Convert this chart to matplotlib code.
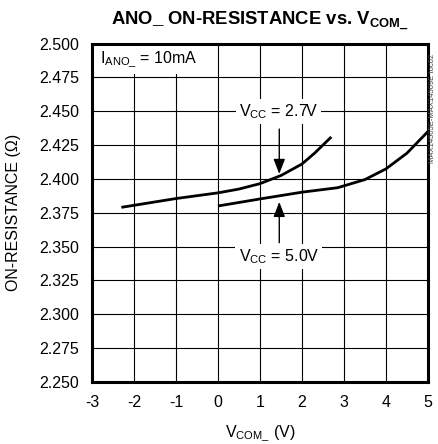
import matplotlib
matplotlib.use("Agg")
import matplotlib.pyplot as plt

plt.rcParams['font.family'] = ['Liberation Sans', 'DejaVu Sans']
plt.rcParams['mathtext.fontset'] = 'custom'
plt.rcParams['mathtext.rm'] = 'Liberation Sans'
plt.rcParams['mathtext.it'] = 'Liberation Sans'
plt.rcParams['mathtext.bf'] = 'Liberation Sans:bold'

# Data
vcom_27 = [-2.3, -1.0, 0.0, 0.5, 1.0, 1.5, 2.0, 2.3, 2.7]
ron_27 = [2.379, 2.3855, 2.3897, 2.3925, 2.3965, 2.4025, 2.411, 2.419, 2.431]
vcom_50 = [0.0, 1.0, 2.0, 2.85, 3.5, 4.0, 4.5, 5.0]
ron_50 = [2.380, 2.3852, 2.3902, 2.3935, 2.3995, 2.4074, 2.419, 2.435]
xticks = [-3, -2, -1, 0, 1, 2, 3, 4, 5]
yticks = [2.250, 2.275, 2.300, 2.325, 2.350, 2.375, 2.400, 2.425, 2.450, 2.475, 2.500]

fig = plt.figure(figsize=(4.38, 4.44), dpi=100)
ax = fig.add_axes([0.210, 0.1396, 0.767, 0.7624])

ax.plot(vcom_27, ron_27, color='black', lw=2.0, zorder=3, solid_capstyle='butt')
ax.plot(vcom_50, ron_50, color='black', lw=2.0, zorder=3, solid_capstyle='butt')

ax.set_xlim(-3, 5)
ax.set_ylim(2.25, 2.5)
ax.set_xticks(xticks)
ax.set_yticks(yticks)
ax.set_xticklabels([f"{t}" for t in xticks])
ax.set_yticklabels([f"{t:.3f}" for t in yticks])
ax.tick_params(length=0, labelsize=11.5)
ax.tick_params(axis='y', pad=9)
ax.tick_params(axis='x', pad=9)
ax.grid(True, color='black', lw=0.8, zorder=1)
ax.set_axisbelow(True)
for s in ax.spines.values():
    s.set_linewidth(2.2)
    s.set_zorder(5)

ax.set_xlabel(r"V$_{\mathrm{COM\_}}$ (V)", fontsize=11.5, labelpad=10)
ax.set_ylabel("ON-RESISTANCE (Ω)", fontsize=11.5, labelpad=13)
ax.set_title(r"ANO_ ON-RESISTANCE vs. V$_{\mathbf{COM\_}}$", fontsize=13.3,
             fontweight='bold', pad=13)

box = dict(boxstyle='square,pad=0.2', fc='white', ec='none')
ax.text(-2.8, 2.4885, r"I$_{\mathrm{ANO\_}}$ = 10mA", fontsize=11.5, ha='left',
        va='center', bbox=dict(boxstyle='square,pad=0.3', fc='white', ec='none'), zorder=4)
ax.text(1.45, 2.4495, r"V$_{\mathrm{CC}}$ = 2.7V", fontsize=11.5, ha='center',
        va='center', bbox=box, zorder=4)
ax.text(1.45, 2.3425, r"V$_{\mathrm{CC}}$ = 5.0V", fontsize=11.5, ha='center',
        va='center', bbox=box, zorder=4)

arrow = dict(arrowstyle='-|>,head_length=0.9,head_width=0.35', color='black',
             lw=1.0, shrinkA=0, shrinkB=0)
ax.annotate("", xy=(1.46, 2.4037), xytext=(1.46, 2.4368), arrowprops=arrow, zorder=4)
ax.annotate("", xy=(1.46, 2.3830), xytext=(1.46, 2.3529), arrowprops=arrow, zorder=4)

fig.text(0.987, 0.755, "MAX14505E-MAX14509E toc02", rotation=90, fontsize=5.5,
         color='#444444', ha='center', va='center')

fig.savefig("out.png", dpi=100)
